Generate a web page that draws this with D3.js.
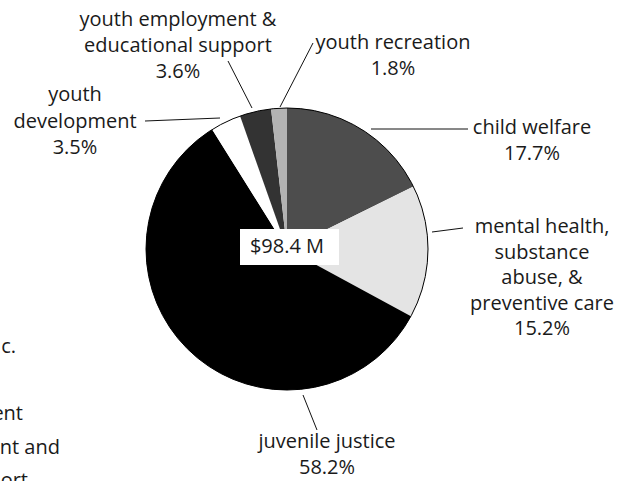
<!DOCTYPE html>
<html>
<head>
<meta charset="utf-8">
<script src="https://cdn.jsdelivr.net/npm/d3@7"></script>
<style>
  html, body { margin: 0; padding: 0; background: #fff; }
  svg { display: block; }
  text { font-family: "Open Sans", "Noto Sans", sans-serif; font-size: 20px; fill: #1a1a1a; }
</style>
</head>
<body>
<svg id="chart" width="619" height="481"></svg>
<script>
// Program spending shares, clockwise from 12 o'clock
const categories = ["child welfare", "mental health, substance abuse, & preventive care",
  "juvenile justice", "youth development", "youth employment & educational support", "youth recreation"];
const shares = [17.7, 15.2, 58.2, 3.5, 3.6, 1.8];
const fills = ["#4d4d4d", "#e4e4e4", "#000000", "#ffffff", "#333333", "#b3b3b3"];
const totalLabel = "$98.4 M";

// Label text lines for each slice (name lines, then the share)
const labelLines = [
  ["child welfare"],
  ["mental health,", "substance", "abuse, &", "preventive care"],
  ["juvenile justice"],
  ["youth", "development"],
  ["youth employment &", "educational support"],
  ["youth recreation"]
];
// Line endings of the side note that runs off the left edge
const sideNote = ["c.", "", "ent", "nt and", "ort"];
const sideNoteEnds = [16, 0, 23, 60, 28];

const svg = d3.select("#chart");
const cx = 287, cy = 249, r = 141;

const pie = d3.pie().sort(null).value(d => d)(shares);
const arc = d3.arc().innerRadius(0).outerRadius(r);

const g = svg.append("g").attr("transform", `translate(${cx},${cy})`);
g.selectAll("path.slice").data(pie).join("path")
  .attr("class", "slice")
  .attr("d", arc)
  .attr("fill", (d, i) => fills[i]);
g.append("circle").attr("r", r).attr("fill", "none").attr("stroke", "#000").attr("stroke-width", 1);

// Label placement: centre x, first baseline y, line step, leader line
const labelPos = [
  { x: 532, y: 134, lh: 26,   line: [[371, 129], [468, 129]] },
  { x: 542, y: 233, lh: 25.6, line: [[432, 232], [463, 228]] },
  { x: 327, y: 448, lh: 25.5, line: [[303, 395], [317, 430]] },
  { x: 75,  y: 101, lh: 26.5, line: [[145, 121], [220, 118]] },
  { x: 178, y: 25.5, lh: 26, line: [[228, 61], [252, 108]] },
  { x: 393, y: 49,  lh: 26,   line: [[280, 107], [313, 43]] }
];

labelPos.forEach((p, i) => {
  svg.append("line")
    .attr("x1", p.line[0][0]).attr("y1", p.line[0][1])
    .attr("x2", p.line[1][0]).attr("y2", p.line[1][1])
    .attr("stroke", "#111").attr("stroke-width", 1);
  const lines = labelLines[i].concat([d3.format(".1f")(shares[i]) + "%"]);
  const t = svg.append("text").attr("text-anchor", "middle");
  lines.forEach((s, k) => {
    t.append("tspan").attr("x", p.x).attr("y", p.y + k * p.lh).text(s);
  });
});

// Total in a white box at the centre
const tb = svg.append("g");
tb.append("rect").attr("x", 240).attr("y", 229).attr("width", 99).attr("height", 36).attr("fill", "#fff");
tb.append("text").attr("x", 287).attr("y", 253).attr("text-anchor", "middle").text(totalLabel);

// Side note, clipped by the left edge
sideNote.forEach((s, k) => {
  if (!s) return;
  svg.append("text").attr("x", sideNoteEnds[k]).attr("y", 353 + k * 33.5)
    .attr("text-anchor", "end").text(s);
});
</script>
</body>
</html>
